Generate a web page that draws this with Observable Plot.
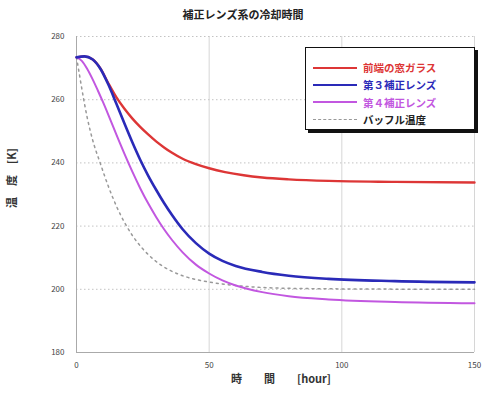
<!DOCTYPE html>
<html>
<head>
<meta charset="utf-8">
<script src="https://cdn.jsdelivr.net/npm/d3@7"></script>
<script src="https://cdn.jsdelivr.net/npm/@observablehq/plot@0.6"></script>
<style>
  body { margin: 0; background: #fff; font-family: "Noto Sans CJK JP", "Noto Sans", sans-serif; }
  #wrap { position: relative; width: 486px; height: 396px; }
  #title { height: 26px; line-height: 28px; text-align: center; font-size: 11px; font-weight: bold; color: #222; }
  #legend { position: absolute; left: 305px; top: 47px; width: 170px; height: 83px; border: 1px solid #111;
            box-shadow: 3px 3px 0 #111; background: #fff; box-sizing: border-box; }
  .row { position: absolute; left: 0; height: 17px; display: flex; align-items: center; font-size: 10.5px; font-weight: bold; }
  .row .sw { width: 44px; margin-left: 7px; margin-right: 6px; height: 0; }
</style>
</head>
<body>
<div id="wrap">
  <div id="title">補正レンズ系の冷却時間</div>
  <div id="chart"></div>
  <div id="legend"></div>
</div>
<script>
// Cooling curves: temperature [K] against elapsed time [hour]
const seriesNames = ["前端の窓ガラス", "第３補正レンズ", "第４補正レンズ", "バッフル温度"];
const seriesColors = ["#dd3636", "#2a2ab8", "#c257e0", "#999999"];

const windowHours = [0, 3, 6, 9, 12, 15, 18, 21, 24, 27, 30, 33, 36, 40, 45, 50, 56, 63, 70, 80, 95, 120, 150];
const windowTemps = [273.4, 273.7, 272.8, 269.9, 265.2, 260.8, 257.2, 254.1, 251.4, 249, 246.8, 244.9, 243.2, 241.3, 239.6, 238.3, 237.1, 236.1, 235.4, 234.8, 234.3, 234, 233.8];

const lens3Hours = [0, 3, 6, 9, 12, 15, 18, 21, 24, 27, 30, 33, 36, 40, 45, 50, 55, 60, 70, 80, 95, 120, 150];
const lens3Temps = [273.4, 273.7, 272.8, 269.8, 264.8, 258.8, 252.6, 246.6, 241, 236, 231.5, 227.3, 223.5, 219, 214.6, 211.3, 209, 207.4, 205.5, 204.3, 203.3, 202.6, 202.2];

const lens4Hours = [0, 2, 4, 6, 8, 10, 12, 15, 18, 21, 24, 27, 30, 33, 36, 40, 45, 50, 55, 60, 70, 80, 95, 120, 150];
const lens4Temps = [273.4, 272.3, 269.8, 266.6, 263, 259.2, 255.2, 249, 243, 237.3, 232, 227.2, 222.9, 219, 215.6, 211.7, 207.8, 205, 202.8, 201.2, 199.1, 197.8, 196.8, 196, 195.6];

const baffleHours = [0, 1, 2, 4, 6, 9, 12, 15, 18, 21, 25, 30, 35, 40, 45, 50, 60, 72, 90, 120, 150];
const baffleTemps = [273.4, 268.5, 263.5, 254.5, 247.5, 239.8, 232.6, 226.4, 221.3, 217.1, 212.8, 208.8, 206.1, 204.3, 203.1, 202.3, 201.2, 200.5, 200.2, 200.05, 200];

const xTicks = [0, 50, 100, 150];
const yTicks = [180, 200, 220, 240, 260, 280];

const toRows = (hours, temps, name) => hours.map((h, i) => ({hour: h, temp: temps[i], name}));
const windowRows = toRows(windowHours, windowTemps, seriesNames[0]);
const lens3Rows = toRows(lens3Hours, lens3Temps, seriesNames[1]);
const lens4Rows = toRows(lens4Hours, lens4Temps, seriesNames[2]);
const baffleRows = toRows(baffleHours, baffleTemps, seriesNames[3]);

const chart = Plot.plot({
  width: 486,
  height: 370,
  marginTop: 10,
  marginLeft: 76,
  marginRight: 12,
  marginBottom: 44,
  style: {fontFamily: "'Noto Sans CJK JP', 'Noto Sans', sans-serif", background: "#fff"},
  x: {domain: [0, 150]},
  y: {domain: [180, 280]},
  marks: [
    Plot.gridY(yTicks, {stroke: "#aaa", strokeOpacity: 0.7, strokeDasharray: "1.5,2.5"}),
    Plot.gridX(xTicks, {stroke: "#ccc", strokeOpacity: 0.8}),
    Plot.ruleX([0], {stroke: "#aaa"}),
    Plot.ruleY([180], {stroke: "#aaa"}),
    Plot.axisY(yTicks, {tickSize: 0, tickPadding: 12, fontSize: 8, fill: "#444", label: null}),
    Plot.axisX(xTicks, {tickSize: 0, tickPadding: 10, fontSize: 8, fill: "#444", label: null}),
    Plot.line(baffleRows, {x: "hour", y: "temp", stroke: seriesColors[3], strokeWidth: 1.5, strokeDasharray: "2,4", curve: "monotone-x"}),
    Plot.line(windowRows, {x: "hour", y: "temp", stroke: seriesColors[0], strokeWidth: 2.4, curve: "monotone-x"}),
    Plot.line(lens4Rows, {x: "hour", y: "temp", stroke: seriesColors[2], strokeWidth: 2, curve: "monotone-x"}),
    Plot.line(lens3Rows, {x: "hour", y: "temp", stroke: seriesColors[1], strokeWidth: 2.6, curve: "monotone-x"})
  ]
});
document.getElementById("chart").appendChild(chart);

// axis titles drawn in the chart svg
const svg = d3.select(chart);
svg.append("text")
  .attr("transform", "translate(16,152) rotate(-90)")
  .attr("text-anchor", "middle")
  .attr("font-size", 11).attr("font-weight", "bold").attr("fill", "#333")
  .text("温　度　[K]");
svg.append("text")
  .attr("x", 281).attr("y", 357)
  .attr("text-anchor", "middle")
  .attr("font-size", 11).attr("font-weight", "bold").attr("fill", "#333")
  .attr("xml:space", "preserve").style("white-space", "pre")
  .text("時　　間　　[hour]");

// legend box
const legend = d3.select("#legend");
const textColors = ["#dd3636", "#2a2ab8", "#c257e0", "#222"];
seriesNames.forEach((name, i) => {
  const row = legend.append("div").attr("class", "row").style("top", (11 + i * 17.3) + "px");
  row.append("div").attr("class", "sw")
    .style("border-top", i === 3 ? "1.5px dashed #999" : `${i === 2 ? 2 : 2.5}px solid ${seriesColors[i]}`);
  row.append("span").style("color", textColors[i]).text(name);
});
</script>
</body>
</html>
